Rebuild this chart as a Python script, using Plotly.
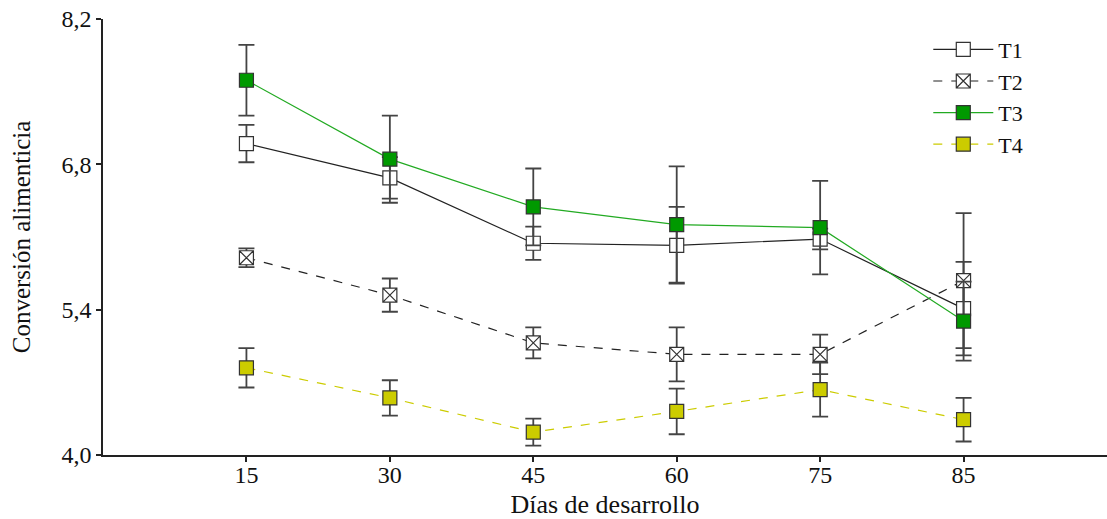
import plotly.graph_objects as go

dias = ["15", "30", "45", "60", "75", "85"]
pos = [0, 1, 2, 3, 4, 5]

t1 = [7.00, 6.67, 6.04, 6.02, 6.08, 5.41]
t1_err = [0.18, 0.20, 0.16, 0.37, 0.10, 0.45]
t2 = [5.90, 5.54, 5.08, 4.97, 4.97, 5.68]
t2_err = [0.09, 0.16, 0.15, 0.26, 0.19, 0.65]
t3 = [7.61, 6.85, 6.39, 6.22, 6.19, 5.29]
t3_err = [0.34, 0.42, 0.37, 0.56, 0.45, 0.38]
t4 = [4.84, 4.55, 4.22, 4.42, 4.63, 4.34]
t4_err = [0.19, 0.17, 0.13, 0.22, 0.26, 0.21]

y_ticks = [4.0, 5.4, 6.8, 8.2]

series = [
    ("T1", t1, t1_err, "#222222", "solid", "square", "white"),
    ("T2", t2, t2_err, "#222222", "dash", "square-x", "white"),
    ("T3", t3, t3_err, "#22aa22", "solid", "square", "#009900"),
    ("T4", t4, t4_err, "#cccc00", "dash", "square", "#cccc00"),
]

fig = go.Figure()
for name, vals, err, lc, dash, sym, fill in series:
    fig.add_trace(go.Scatter(
        x=pos, y=vals, name=name, mode="lines+markers",
        line=dict(color=lc, width=1.2, dash=dash),
        marker=dict(symbol=sym, size=14, color=fill,
                    line=dict(color="#333333", width=1.2)),
        error_y=dict(type="data", array=err, visible=True,
                     color="#444444", thickness=1.8, width=8),
    ))

fig.update_layout(
    width=1107, height=519,
    margin=dict(l=103, r=0, t=19, b=64, autoexpand=False),
    paper_bgcolor="white", plot_bgcolor="white",
    separators=",.",
    font=dict(family="Liberation Serif", size=24, color="#111111"),
    showlegend=True,
    legend=dict(x=0.822, y=0.978, xanchor="left", yanchor="top",
                font=dict(size=22), bgcolor="rgba(0,0,0,0)",
                itemwidth=60, tracegroupgap=0),
)
fig.update_xaxes(
    range=[-1, 6], tickmode="array", tickvals=pos, ticktext=dias,
    showline=True, linecolor="#222222", linewidth=1.5,
    ticks="outside", ticklen=5, tickcolor="#222222", tickwidth=1.5,
    ticklabelstandoff=-8, ticklabeloverflow="allow",
    showgrid=False, zeroline=False, automargin=False,
    title=dict(text="Días de desarrollo", font=dict(size=26), standoff=8),
)
fig.update_yaxes(
    range=[4.0, 8.2], tickmode="array", tickvals=y_ticks, tickformat=".1f",
    showline=True, linecolor="#222222", linewidth=1.5,
    ticks="outside", ticklen=5, tickcolor="#222222", tickwidth=1.5,
    ticklabeloverflow="allow",
    showgrid=False, zeroline=False, automargin=False,
    title=dict(text="Conversión alimenticia", font=dict(size=25), standoff=24),
)

# remove the browser's default 8px body margin so the figure fills the window
fig.write_html("out.html", config={"displayModeBar": False},
               post_script="document.body.style.margin='0px';")
